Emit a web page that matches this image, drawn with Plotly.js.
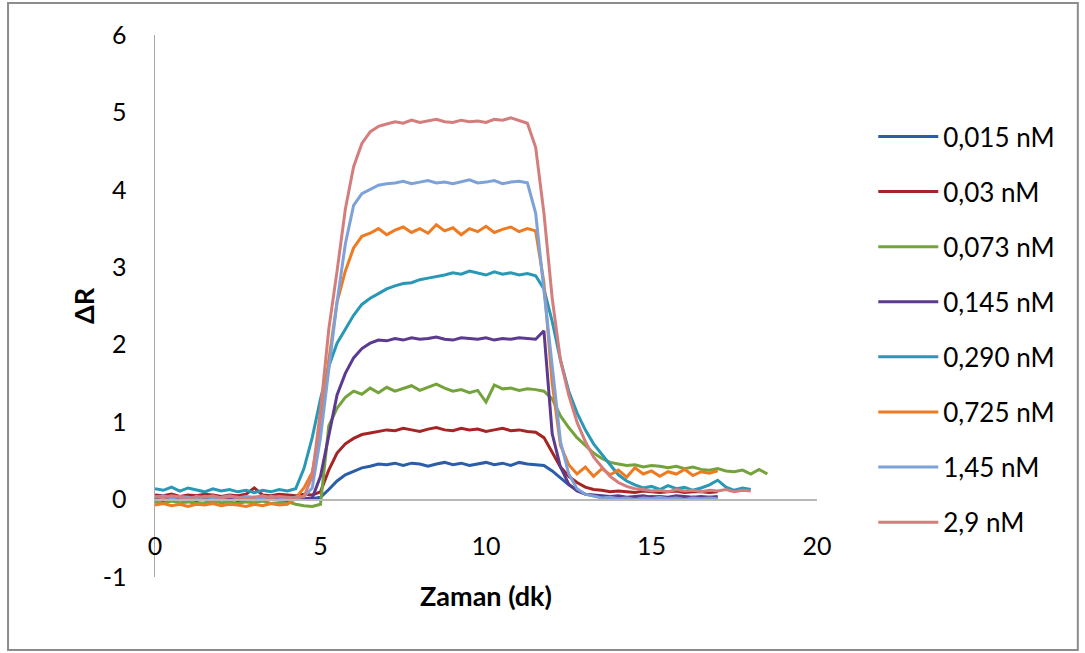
<!DOCTYPE html>
<html>
<head>
<meta charset="utf-8">
<script src="https://cdn.plot.ly/plotly-3.0.1.min.js"></script>
<style>html,body{margin:0;padding:0;background:#fff;}#chart{width:1085px;height:653px;}</style>
</head>
<body>
<div id="chart"></div>
<script>
// time (dk)
const time = [0,0.25,0.5,0.75,1,1.25,1.5,1.75,2,2.25,2.5,2.75,3,3.25,3.5,3.75,4,4.25,4.5,4.75,
5,5.25,5.5,5.75,6,6.25,6.5,6.75,7,7.25,7.5,7.75,8,8.25,8.5,8.75,9,9.25,9.5,9.75,
10,10.25,10.5,10.75,11,11.25,11.5,11.75,12,12.25,12.5,12.75,13,13.25,13.5,13.75,14,14.25,14.5,14.75,
15,15.25,15.5,15.75,16,16.25,16.5,16.75,17,17.25,17.5,17.75,18,18.25,18.5];

const seriesNames = ["0,015 nM","0,03 nM","0,073 nM","0,145 nM","0,290 nM","0,725 nM","1,45 nM","2,9 nM"];
const seriesColors = ["#2C5DA8","#A52525","#74A33B","#5B3A90","#2898B6","#EE7B22","#7CA2D9","#D47D7D"];

const c0015 = [0.02,0.00,0.03,0.01,-0.01,0.02,0.00,0.03,0.01,0.02,-0.01,0.01,0.03,0.00,0.02,0.01,-0.01,0.02,0.00,0.01,
0.03,0.13,0.24,0.32,0.37,0.41,0.43,0.46,0.45,
0.47,0.44,0.47,0.46,0.43,0.46,0.48,0.45,0.47,0.44,0.46,0.48,0.45,0.47,0.44,0.48,0.46,0.45,
0.44,0.37,0.28,0.19,0.12,0.07,
0.05,0.04,0.03,0.04,0.02,0.03,0.02,0.04,0.03,0.02,0.03,0.01,0.03,0.02,0.03,0.02];

const c003 = [0.06,0.05,0.07,0.04,0.06,0.05,0.07,0.06,0.04,0.06,0.05,0.07,0.15,0.06,0.05,0.07,0.06,0.05,0.07,0.06,
0.10,0.38,0.60,0.72,0.79,0.84,0.86,0.88,0.90,
0.89,0.92,0.90,0.88,0.91,0.93,0.90,0.89,0.92,0.90,0.91,0.88,0.90,0.92,0.89,0.90,0.88,0.87,
0.80,0.60,0.42,0.30,0.22,0.16,
0.13,0.12,0.10,0.11,0.10,0.09,0.11,0.10,0.09,0.10,0.11,0.09,0.10,0.10,0.09,0.10];

const c0073 = [-0.03,-0.05,-0.02,-0.04,-0.03,-0.05,-0.04,-0.02,-0.04,-0.03,-0.05,-0.03,-0.04,-0.02,-0.05,-0.04,-0.03,-0.06,-0.08,-0.09,
-0.06,0.95,1.18,1.32,1.40,1.36,1.44,1.38,1.45,
1.40,1.43,1.47,1.41,1.45,1.49,1.44,1.40,1.42,1.38,1.41,1.26,1.48,1.43,1.44,1.41,1.43,1.42,
1.40,1.30,1.08,0.93,0.80,0.70,0.60,0.53,0.48,0.46,
0.44,0.45,0.42,0.44,0.43,0.41,0.43,0.40,0.42,0.39,0.38,0.40,0.37,0.36,0.38,0.33,0.39,0.33];

const c0145 = [0.01,-0.01,0.02,0.00,0.01,-0.01,0.01,0.02,0.00,0.01,-0.01,0.00,0.02,0.01,0.00,0.01,-0.01,0.00,0.01,0.02,
0.30,0.85,1.35,1.63,1.83,1.95,2.02,2.06,2.05,
2.08,2.06,2.09,2.07,2.08,2.10,2.07,2.06,2.09,2.08,2.07,2.09,2.06,2.08,2.07,2.09,2.08,2.07,
2.18,0.85,0.42,0.20,0.11,0.07,
0.06,0.05,0.04,0.05,0.03,0.04,0.05,0.03,0.04,0.03,0.05,0.04,0.03,0.04,0.03,0.04];

const c0290 = [0.14,0.12,0.16,0.11,0.15,0.12,0.10,0.14,0.11,0.13,0.10,0.12,0.09,0.12,0.10,0.13,0.11,
0.14,0.40,0.80,1.30,1.72,2.02,2.20,2.38,2.52,2.60,2.66,2.72,
2.76,2.79,2.80,2.84,2.86,2.88,2.90,2.93,2.91,2.95,2.92,2.90,2.94,2.91,2.93,2.90,2.92,2.89,
2.72,2.30,1.80,1.40,1.12,0.90,0.72,0.58,0.45,0.32,0.24,0.19,
0.15,0.17,0.13,0.18,0.14,0.16,0.12,0.15,0.19,0.25,0.16,0.12,0.15,0.13];

const c0725 = [-0.07,-0.05,-0.08,-0.06,-0.09,-0.06,-0.07,-0.05,-0.08,-0.06,-0.07,-0.09,-0.06,-0.08,-0.05,-0.07,-0.06,
0.02,0.15,0.35,0.95,1.80,2.55,2.95,3.25,3.40,3.44,3.50,3.42,
3.48,3.52,3.45,3.50,3.44,3.55,3.47,3.51,3.42,3.50,3.46,3.53,3.45,3.49,3.52,3.46,3.50,3.47,
2.80,1.50,0.70,0.45,0.33,0.42,
0.30,0.40,0.32,0.38,0.29,0.41,0.33,0.37,0.30,0.36,0.33,0.39,0.31,0.36,0.34,0.37];

const c145 = [0.03,0.05,0.02,0.04,0.03,0.01,0.04,0.02,0.03,0.05,0.02,0.04,0.03,0.02,0.04,0.03,0.01,0.03,0.04,
0.15,0.80,1.70,2.55,3.30,3.80,3.95,4.00,4.06,4.08,
4.09,4.11,4.08,4.10,4.12,4.09,4.10,4.08,4.11,4.13,4.09,4.10,4.12,4.08,4.10,4.11,4.09,3.70,
2.70,1.68,0.75,0.33,0.14,0.07,
0.04,0.02,0.03,0.01,0.02,0.00,0.02,0.01,0.03,0.01,0.02,0.00,0.02,0.01,0.02,0.01];

const c29 = [0.04,0.02,0.05,0.03,0.01,0.04,0.03,0.05,0.02,0.04,0.03,0.01,0.03,0.05,0.02,0.04,0.03,0.02,0.04,
0.30,1.15,2.20,2.95,3.75,4.30,4.60,4.75,4.82,4.85,
4.88,4.86,4.90,4.87,4.89,4.91,4.88,4.87,4.90,4.88,4.89,4.87,4.91,4.90,4.93,4.89,4.86,
4.55,3.70,2.60,1.80,1.35,1.00,0.75,0.55,0.42,0.30,0.22,0.17,0.14,
0.13,0.11,0.12,0.10,0.13,0.11,0.12,0.10,0.12,0.11,0.13,0.10,0.12,0.11];

const seriesValues = [c0015,c003,c0073,c0145,c0290,c0725,c145,c29];

const xTicks = [0,5,10,15,20];
const yTicks = [-1,0,1,2,3,4,5,6];

const FONT = "Lato, 'Open Sans', sans-serif";

const traces = seriesValues.map((vals, k) => ({
  x: time.slice(0, vals.length),
  y: vals,
  type: 'scatter',
  mode: 'lines',
  name: seriesNames[k],
  legendgroup: 'g' + k,
  line: {color: seriesColors[k], width: 3},
  hoverinfo: 'x+y+name'
}));

const layout = {
  width: 1085,
  height: 653,
  margin: {l: 155, r: 268, t: 35, b: 76},
  paper_bgcolor: '#ffffff',
  plot_bgcolor: '#ffffff',
  font: {family: FONT, size: 25, color: '#000000'},
  showlegend: true,
  legend: {
    x: 1.085, xanchor: 'left',
    y: 0.856, yanchor: 'top',
    font: {family: FONT, size: 26, color: '#000000'},
    tracegroupgap: 18.3,
    itemwidth: 60,
    bgcolor: 'rgba(0,0,0,0)',
    borderwidth: 0
  },
  xaxis: {
    range: [0, 20],
    tickvals: xTicks,
    ticktext: xTicks.map(String),
    anchor: 'free',
    position: 1/7,
    showline: true,
    linecolor: '#b8b8b8',
    linewidth: 2,
    ticks: '',
    showgrid: false,
    zeroline: false,
    ticklabelstandoff: 24,
    tickfont: {family: FONT, size: 25, color: '#000000'},
    title: {text: 'Zaman (dk)', font: {family: FONT, size: 27, color: '#000000', weight: 'bold'}, standoff: 28}
  },
  yaxis: {
    range: [-1, 6],
    tickvals: yTicks,
    ticktext: yTicks.map(String),
    showline: true,
    linecolor: '#a8a8a8',
    linewidth: 1.5,
    ticks: '',
    showgrid: false,
    zeroline: false,
    ticklabelstandoff: 22,
    tickfont: {family: FONT, size: 25, color: '#000000'},
    title: {text: 'ΔR', font: {family: FONT, size: 27, color: '#000000', weight: 'bold'}, standoff: 0}
  },
  shapes: [{
    type: 'rect', xref: 'paper', yref: 'paper',
    x0: -0.222, x1: 1.394, y0: -0.1347, y1: 1.059,
    line: {color: '#8c8c8c', width: 2},
    fillcolor: 'rgba(0,0,0,0)', layer: 'below'
  }]
};

Plotly.newPlot('chart', traces, layout, {displayModeBar: false, staticPlot: true});
</script>
</body>
</html>
